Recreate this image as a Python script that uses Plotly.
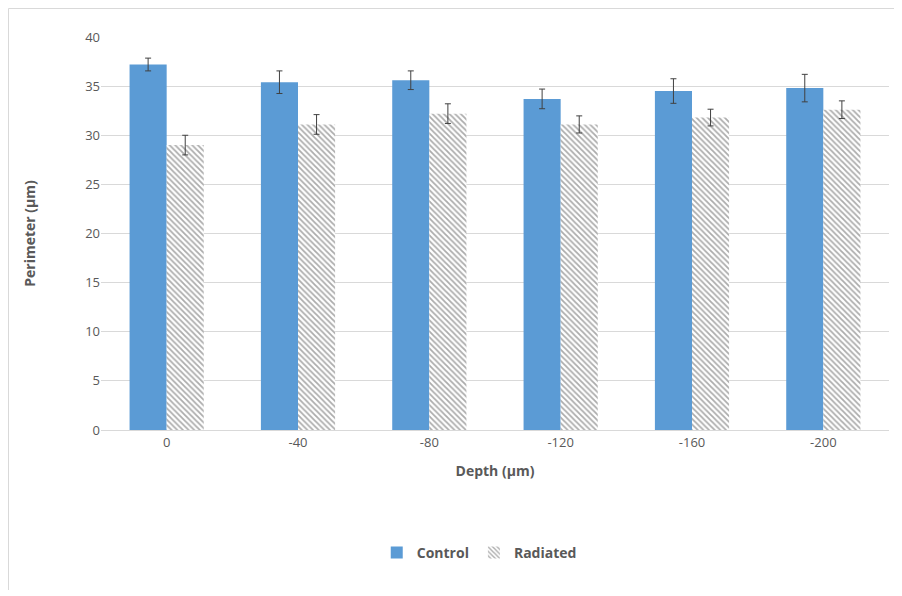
import plotly.graph_objects as go

categories = ["0", "-40", "-80", "-120", "-160", "-200"]
control = [37.2, 35.4, 35.6, 33.7, 34.5, 34.8]
control_err = [0.65, 1.15, 0.95, 1.0, 1.25, 1.4]
radiated = [29.0, 31.1, 32.2, 31.1, 31.8, 32.6]
radiated_err = [1.0, 1.0, 1.0, 0.87, 0.85, 0.9]

font_family = "Open Sans, Noto Sans, sans-serif"
gray_text = "#595959"

# page has an 8px body margin; compensate in figure geometry
W, H = 886, 582
L, T = 93, 29
PW, PH = 788, 393
R = W - L - PW
B = H - T - PH

fig = go.Figure()
fig.add_trace(go.Bar(
    name="<b>Control</b>", x=categories, y=control,
    marker=dict(color="#5b9bd5", line=dict(width=0)),
    error_y=dict(type="data", array=control_err, color="#404040", thickness=1, width=3),
))
fig.add_trace(go.Bar(
    name="<b>Radiated</b>", x=categories, y=radiated,
    marker=dict(color="white", line=dict(width=0),
                pattern=dict(shape="\\", fgcolor="#5a5a5a", bgcolor="white", size=4, solidity=0.45)),
    error_y=dict(type="data", array=radiated_err, color="#404040", thickness=1, width=3),
))

fig.update_layout(
    width=W, height=H,
    margin=dict(l=L, r=R, t=T, b=B),
    paper_bgcolor="white", plot_bgcolor="white",
    barmode="group", bargap=0.435, bargroupgap=0,
    font=dict(family=font_family, color=gray_text, size=13),
    showlegend=True,
    legend=dict(orientation="h", x=0.48, xanchor="center", y=-0.313, yanchor="middle",
                font=dict(size=14, color=gray_text, family=font_family), traceorder="normal",
                itemwidth=30),
    xaxis=dict(
        title=dict(text="<b>Depth (µm)</b>", font=dict(size=14, color=gray_text), standoff=16),
        showline=True, linecolor="#d9d9d9", linewidth=1, ticks="",
        tickfont=dict(size=13, color=gray_text), showgrid=False,
    ),
    yaxis=dict(
        title=dict(text="<b>Perimeter (µm)</b>", font=dict(size=14, color=gray_text), standoff=46),
        range=[0, 40], dtick=5, showgrid=True, gridcolor="#d9d9d9", gridwidth=1,
        zeroline=False, showline=False, ticks="",
        tickfont=dict(size=13, color=gray_text),
    ),
    shapes=[
        dict(type="rect", xref="paper", yref="paper",
             x0=(0.5 - L) / PW, x1=(W + 20 - L) / PW,
             y0=(T + PH - (H + 20)) / PH, y1=(T + PH - 0.5) / PH,
             line=dict(color="#d9d9d9", width=1), layer="below"),
    ],
)

fig.write_html("out.html")
